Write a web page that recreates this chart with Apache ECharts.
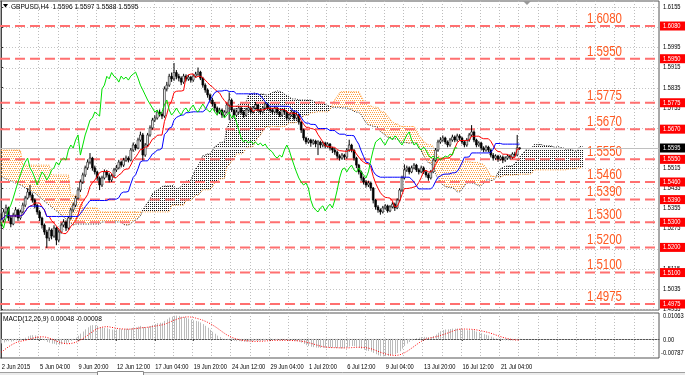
<!DOCTYPE html>
<html><head><meta charset="utf-8">
<script src="https://cdn.jsdelivr.net/npm/echarts@6/dist/echarts.min.js"></script>
<style>html,body{margin:0;padding:0;background:#fff}#c{width:685px;height:375px}</style>
</head><body><div id="c"></div>
<script>
// ---------- DATA (prices in pips after "1.", e.g. 5595 = 1.5595) ----------
const symbol = 'GBPUSD', timeframe = 'H4';
const firstOpen = 5300;
const closes = [
5309,5341,5357,5317,5293,5329,5349,5317,5341,5368,
5396,5420,5408,5388,5368,5341,5317,5289,5261,5237,
5269,5245,5277,5229,5261,5289,5301,5277,5317,5349,
5368,5396,5428,5460,5488,5516,5539,5555,5516,5500,
5476,5448,5476,5500,5488,5468,5484,5508,5516,5539,
5527,5547,5555,5547,5587,5607,5595,5627,5647,5567,
5607,5647,5675,5706,5714,5738,5730,5722,5830,5845,
5880,5870,5895,5880,5873,5857,5881,5869,5877,5865,
5881,5889,5897,5873,5845,5826,5806,5786,5770,5754,
5738,5746,5726,5738,5766,5786,5746,5726,5738,5754,
5738,5726,5746,5754,5738,5754,5766,5746,5738,5754,
5770,5754,5746,5738,5754,5738,5726,5746,5738,5714,
5726,5738,5714,5726,5698,5667,5635,5619,5627,5615,
5623,5611,5619,5607,5615,5603,5611,5595,5587,5579,
5563,5555,5567,5559,5587,5607,5587,5555,5527,5500,
5476,5460,5448,5456,5436,5388,5361,5349,5341,5357,
5365,5345,5361,5372,5357,5388,5428,5476,5508,5516,
5500,5516,5527,5508,5500,5516,5500,5488,5476,5500,
5547,5587,5619,5627,5635,5619,5607,5627,5639,5627,
5643,5635,5619,5607,5627,5647,5659,5627,5607,5615,
5595,5587,5599,5587,5567,5555,5563,5551,5559,5547,
5555,5563,5559,5571,5567,5596,5595];
const highs = [
5335,5352,5370,5362,5325,5338,5360,5352,5350,5378,
5405,5435,5448,5415,5395,5372,5348,5322,5295,5270,
5280,5275,5288,5282,5270,5298,5312,5308,5325,5358,
5378,5405,5438,5470,5497,5525,5550,5575,5560,5525,
5505,5482,5485,5510,5508,5495,5492,5516,5528,5548,
5545,5556,5565,5562,5595,5617,5612,5636,5660,5655,
5615,5655,5685,5715,5725,5746,5748,5738,5840,5858,
5890,5895,5933,5905,5890,5880,5890,5888,5886,5882,
5890,5898,5915,5902,5878,5852,5832,5812,5795,5778,
5760,5755,5752,5745,5775,5816,5792,5752,5748,5762,
5760,5745,5755,5765,5760,5762,5778,5770,5752,5762,
5778,5775,5760,5752,5762,5758,5742,5752,5755,5742,
5735,5745,5742,5735,5730,5702,5672,5640,5635,5632,
5630,5628,5626,5624,5622,5620,5618,5615,5600,5595,
5585,5570,5575,5572,5595,5628,5612,5590,5560,5532,
5505,5482,5468,5465,5462,5440,5392,5368,5355,5365,
5372,5370,5368,5380,5378,5395,5435,5485,5530,5525,
5522,5525,5535,5532,5515,5525,5522,5505,5495,5508,
5555,5595,5628,5638,5645,5640,5625,5635,5648,5645,
5652,5650,5640,5625,5635,5655,5686,5665,5632,5622,
5620,5602,5606,5604,5592,5575,5570,5568,5566,5565,
5562,5570,5570,5578,5580,5647,5597];
const lows = [
5285,5300,5332,5305,5280,5288,5320,5305,5310,5335,
5360,5390,5398,5378,5355,5330,5305,5275,5250,5198,
5225,5232,5238,5209,5220,5255,5280,5265,5270,5310,
5340,5360,5390,5420,5452,5480,5508,5530,5505,5490,
5465,5428,5440,5470,5478,5458,5460,5478,5500,5510,
5518,5520,5540,5538,5542,5580,5585,5590,5620,5545,
5560,5600,5640,5668,5698,5708,5720,5710,5715,5820,
5838,5858,5862,5868,5860,5845,5850,5860,5862,5855,
5858,5875,5882,5865,5835,5815,5795,5775,5760,5742,
5725,5730,5715,5718,5732,5706,5738,5715,5720,5730,
5728,5715,5720,5740,5730,5732,5748,5738,5728,5732,
5748,5745,5738,5730,5732,5728,5718,5720,5730,5705,
5706,5720,5705,5708,5688,5655,5625,5610,5612,5600,
5608,5598,5567,5595,5598,5594,5596,5585,5575,5568,
5552,5545,5548,5548,5552,5580,5578,5545,5515,5490,
5465,5450,5438,5440,5425,5375,5350,5338,5330,5335,
5350,5338,5340,5355,5345,5352,5382,5420,5470,5500,
5490,5495,5510,5500,5490,5495,5492,5478,5465,5470,
5495,5540,5580,5612,5620,5610,5598,5600,5620,5618,
5620,5625,5610,5598,5600,5620,5640,5618,5598,5600,
5585,5578,5580,5578,5558,5545,5548,5540,5545,5535,
5540,5548,5550,5552,5560,5562,5588];
const spanAHead = [
5480,5476,5472,5468,5464,5460,5456,5452,5448,5444,
5436,5432,5424,5420,5416,5408,5400,5392,5384,5376,
5368,5361,5353,5345,5337,5329,5321,5313,5305,5297,
5289,5293,5293,5293,5293,5293,5293,5293,5293,5293,
5293,5293,5301,5301,5301,5301,5301,5301,5301,5301,5301];
const spanBHead = [
5587,5587,5587,5587,5587,5587,5587,5587,5587,
5527,5527,5527,5527,5527,5527,5527,5527,5527,5527,5527,5527,
5488,5488,5488,5488,5488,5488,5488,5488,
5408,5408,5408,5408,5408,
5357,5357,5357,5357,5357,5357,5357,
5341,5341,5341,5341,5341,5341,5341,5341,5341,5341,
5341,5341,5341,5341,5341,5341,5341,5341,5341,5341,
5341,5341,5341,5341,5341,5341,5341,5341,5341,5341,
5368,5368,5368,5368,5368,5368];
const macdSeed = [1.5310, 1.5330];          // EMA12, EMA26 before first bar
const macdPrev = [-0.0080,-0.0078,-0.0074,-0.0068,-0.0060,-0.0050,-0.0038,-0.0027];
const macdHeaderValues = ['0.00048', '-0.00008'];
const levels = [1.6080,1.5950,1.5775,1.5670,1.5550,1.5460,1.5390,1.5300,1.5200,1.5100,1.4975];
const priceTicks = [1.6155,1.6075,1.5995,1.5915,1.5835,1.5755,1.5675,1.5595,1.5515,1.5435,1.5355,1.5275,1.5195,1.5115,1.5035,1.4955];
const macdTicks = [0.01063, 0, -0.00787];
const macdTickLabels = ['0.01063', '0.00', '-0.00787'];
const dateLabels = ['2 Jun 2015','5 Jun 04:00','9 Jun 20:00','12 Jun 12:00','17 Jun 04:00','19 Jun 20:00','24 Jun 12:00','29 Jun 04:00','1 Jul 20:00','6 Jul 12:00','9 Jul 04:00','13 Jul 20:00','16 Jul 12:00','21 Jul 04:00'];
const dateLabelBars = [0,16,32,48,64,80,96,112,128,144,160,176,192,208];

// ---------- derived ----------
const P = v => 1 + v / 10000;
const N = closes.length;
const Cl = closes.map(P), Hi = highs.map(P), Lo = lows.map(P);
const Op = Cl.map((c, i) => i === 0 ? P(firstOpen) : Cl[i - 1]);
const SHIFT = 26;
function mid(i, n) {
  let hh = -Infinity, ll = Infinity;
  for (let k = Math.max(0, i - n + 1); k <= i; k++) { hh = Math.max(hh, Hi[k]); ll = Math.min(ll, Lo[k]); }
  return (hh + ll) / 2;
}
const tenkan = Cl.map((_, i) => mid(i, 9));
const kijun = Cl.map((_, i) => mid(i, 26));
const spanA = [], spanB = [];
for (let j = 0; j < N + SHIFT; j++) {
  const i = j - SHIFT;
  spanA.push(j < spanAHead.length ? P(spanAHead[j]) : (tenkan[i] + kijun[i]) / 2);
  spanB.push(j < spanBHead.length ? P(spanBHead[j]) : mid(i, 52));
}
// contiguous runs of the cloud with the same colour
const runs = []; { let s = 0; const up = j => spanA[j] >= spanB[j];
  for (let j = 1; j <= spanA.length; j++) if (j === spanA.length || up(j) !== up(s)) { runs.push([s, spanA[s], j - 1, up(s) ? 1 : 0]); s = j; } }
let e12 = macdSeed[0], e26 = macdSeed[1];
const macdMain = [];
Cl.forEach(c => { e12 += 2 / 13 * (c - e12); e26 += 2 / 27 * (c - e26); macdMain.push(e12 - e26); });
const allMain = macdPrev.concat(macdMain);
const macdSignal = macdMain.map((_, i) => { let s = 0; for (let k = i; k < i + 9; k++) s += allMain[k]; return s / 9; });

const FONT = '"Liberation Sans",Arial,sans-serif';
const SX = 0.82;   // the screenshot is horizontally condensed
const XMIN = -0.5, XMAX = -0.5 + 659 / 2.4;
const gridBars = []; for (let k = 1; k * 8 - 0.5 < XMAX; k++) gridBars.push(k * 8 - 0.5);

function dotPattern(color, w, h, dots) {
  const c = document.createElement('canvas'); c.width = w; c.height = h;
  const g = c.getContext('2d'); g.fillStyle = color; dots.forEach(d => g.fillRect(d[0], d[1], 1, 1));
  return { image: c, repeat: 'repeat' };
}
const PAT_UP = dotPattern('#1a1a1a', 2, 2, [[0, 0]]);
const PAT_DN = dotPattern('#ffa040', 2, 4, [[0, 0], [1, 2]]);

const chart = echarts.init(document.getElementById('c'), null, { renderer: 'canvas' });

function txt(x, y, text, size, fill, align, vAlign) {
  return { type: 'text', x, y, scaleX: SX, style: { x: 0, y: 0, text, fill, font: size + 'px ' + FONT, align: align || 'left', verticalAlign: vAlign || 'middle' } };
}
function hLineSeries(xi, yi, vals, color, dash, z) {
  return { type: 'custom', xAxisIndex: xi, yAxisIndex: yi, z, silent: true,
    data: vals.map(v => [XMIN, v]), encode: { x: 0, y: 1 },
    renderItem: (p, api) => { const cs = p.coordSys; const y = Math.round(api.coord([XMIN, api.value(1)])[1]) + 0.5;
      return { type: 'line', shape: { x1: cs.x, y1: y, x2: cs.x + cs.width, y2: y }, style: { stroke: color, lineWidth: 1, lineDash: dash } }; } };
}
function vLineSeries(xi, yi, vals, z) {
  return { type: 'custom', xAxisIndex: xi, yAxisIndex: yi, z, silent: true,
    data: vals.map(v => [v, 0]), encode: { x: 0, y: 1 },
    renderItem: (p, api) => { const cs = p.coordSys; const x = Math.round(api.coord([api.value(0), 0])[0]) + 0.5;
      return { type: 'line', shape: { x1: x, y1: cs.y, x2: x, y2: cs.y + cs.height }, style: { stroke: '#bdbdbd', lineWidth: 1, lineDash: [1, 2] } }; } };
}

const option = {
  animation: false,
  backgroundColor: '#fff',
  grid: [
    { left: 0, top: 1, width: 659, height: 309, show: true, borderColor: '#555', borderWidth: 1, backgroundColor: 'transparent' },
    { left: 0, top: 313, width: 659, height: 45, show: true, borderColor: '#555', borderWidth: 1, backgroundColor: 'transparent' }
  ],
  xAxis: [
    { type: 'value', gridIndex: 0, min: XMIN, max: XMAX, show: false },
    { type: 'value', gridIndex: 1, min: XMIN, max: XMAX,
      axisLine: { show: true, lineStyle: { color: '#555' } },
      axisTick: { show: true, customValues: dateLabelBars, length: 2, lineStyle: { color: '#333' } },
      splitLine: { show: false }, axisLabel: { show: false } }
  ],
  yAxis: [
    { type: 'value', gridIndex: 0, position: 'right', min: 1.49512, max: 1.61794,
      axisLine: { show: true, lineStyle: { color: '#444' } },
      axisTick: { show: true, customValues: priceTicks, length: 2, lineStyle: { color: '#333' } },
      splitLine: { show: false }, axisLabel: { show: false } },
    { type: 'value', gridIndex: 1, position: 'right', min: -0.00787, max: 0.01063,
      axisLine: { show: true, lineStyle: { color: '#444' } },
      axisTick: { show: false }, splitLine: { show: false }, axisLabel: { show: false } }
  ],
  graphic: [
    { type: 'polygon', z: 100, shape: { points: [[3, 4], [8, 4], [5.5, 7.5]] }, style: { fill: '#000' } },
    Object.assign(txt(11, 6.5, symbol + ',' + timeframe + '  ' + Op[N-1].toFixed(4) + ' ' + Hi[N-1].toFixed(4) + ' ' + Lo[N-1].toFixed(4) + ' ' + Cl[N-1].toFixed(4), 8, '#000'), { z: 100 }),
    Object.assign(txt(3, 318.5, 'MACD(12,26,9) ' + macdHeaderValues.join(' '), 8, '#000'), { z: 100 }),
    { type: 'polygon', z: 100, shape: { points: [[523, 1], [531, 1], [527, 5]] }, style: { fill: '#999' } },
    { type: 'rect', z: 100, shape: { x: 0, y: 372, width: 685, height: 3 }, style: { fill: '#ececec' } },
    { type: 'line', z: 100, shape: { x1: 0, y1: 372.5, x2: 685, y2: 372.5 }, style: { stroke: '#a0a0a0', lineWidth: 1 } },
    { type: 'rect', z: 101, shape: { x: 97.5, y: 371.5, width: 46, height: 4 }, style: { fill: '#fff', stroke: '#888', lineWidth: 1 } }
  ],
  series: [
    hLineSeries(0, 0, priceTicks, '#c4c4c4', [1, 2], 1),
    vLineSeries(0, 0, gridBars, 1),
    hLineSeries(1, 1, [0], '#b0b0b0', [1, 2], 1),
    vLineSeries(1, 1, gridBars, 1),
    // price-axis labels
    { type: 'custom', xAxisIndex: 0, yAxisIndex: 0, z: 3, silent: true, clip: false,
      data: priceTicks.map(v => [XMIN, v]), encode: { x: 0, y: 1 },
      renderItem: (p, api) => { const cs = p.coordSys; const y = api.coord([XMIN, api.value(1)])[1];
        return txt(cs.x + cs.width + 4, y, api.value(1).toFixed(4), 7, '#000'); } },
    // MACD-axis labels
    { type: 'custom', xAxisIndex: 1, yAxisIndex: 1, z: 3, silent: true, clip: false,
      data: macdTicks.map((v, k) => [XMIN, v, k]), encode: { x: 0, y: 1 },
      renderItem: (p, api) => { const cs = p.coordSys; const k = api.value(2);
        const y = api.coord([XMIN, api.value(1)])[1] + (k === 0 ? 3 : k === 2 ? -5 : 1);
        return txt(cs.x + cs.width + (k === 2 ? 2 : 4), y, macdTickLabels[k], 7, '#000'); } },
    // date labels
    { type: 'custom', xAxisIndex: 1, yAxisIndex: 1, z: 3, silent: true, clip: false,
      data: dateLabelBars.map((b, k) => [b, 0, k]), encode: { x: 0, y: 1 },
      renderItem: (p, api) => { const cs = p.coordSys; const x = api.coord([api.value(0), 0])[0];
        return txt(x + 0.5, cs.y + cs.height + 9, dateLabels[api.value(2)], 7, '#000'); } },
    // Ichimoku cloud (dotted fill)
    { type: 'custom', xAxisIndex: 0, yAxisIndex: 0, z: 2, silent: true, clip: true,
      data: runs, encode: { x: [0, 2], y: 1 },
      renderItem: (p, api) => {
        const s = api.value(0), e = api.value(2), up = api.value(3);
        const top = [], bot = [];
        for (let j = s; j <= e; j++) {
          const xs = j === s ? [j - 0.5, j] : j === e ? [j, j + 0.5] : [j];
          if (s === e) xs.splice(0, xs.length, j - 0.5, j + 0.5);
          xs.forEach(x => { top.push(api.coord([x, spanA[j]])); bot.push(api.coord([x, spanB[j]])); });
        }
        return { type: 'polygon', shape: { points: top.concat(bot.reverse()) }, style: { fill: up ? PAT_UP : PAT_DN } };
      } },
    { type: 'line', xAxisIndex: 0, yAxisIndex: 0, z: 3, symbol: 'none', silent: true, data: spanA.map((v, j) => [j, v]),
      lineStyle: { color: '#222', width: 1, type: [1, 1.5] } },
    { type: 'line', xAxisIndex: 0, yAxisIndex: 0, z: 3, symbol: 'none', silent: true, data: spanB.map((v, j) => [j, v]),
      lineStyle: { color: '#ff9020', width: 1, type: [1, 1.5] } },
    // horizontal levels + labels
    { type: 'custom', xAxisIndex: 0, yAxisIndex: 0, z: 4, silent: true, clip: false,
      data: levels.map(v => [XMIN, v]), encode: { x: 0, y: 1 },
      renderItem: (p, api) => {
        const cs = p.coordSys; const v = api.value(1); const y = api.coord([XMIN, v])[1];
        return { type: 'group', children: [
          { type: 'line', shape: { x1: cs.x, y1: y, x2: cs.x + cs.width, y2: y }, style: { stroke: '#ff7070', lineWidth: 2, lineDash: [10, 5] } },
          txt(cs.x + cs.width - 37, y - 7, v.toFixed(4), 14, '#ff5a22', 'right'),
          { type: 'rect', shape: { x: cs.x + cs.width + 1, y: y - 4.5, width: 25, height: 9 }, style: { fill: '#ff0000' } },
          txt(cs.x + cs.width + 4, y, v.toFixed(4), 7, '#fff')
        ] };
      } },
    // bid line + price box
    { type: 'custom', xAxisIndex: 0, yAxisIndex: 0, z: 4, silent: true, clip: false,
      data: [[XMIN, Cl[N - 1]]], encode: { x: 0, y: 1 },
      renderItem: (p, api) => {
        const cs = p.coordSys; const v = api.value(1); const y = Math.round(api.coord([XMIN, v])[1]) + 0.5;
        return { type: 'group', children: [
          { type: 'line', shape: { x1: cs.x, y1: y, x2: cs.x + cs.width, y2: y }, style: { stroke: '#c0c0c0', lineWidth: 1 } },
          { type: 'rect', shape: { x: cs.x + cs.width + 1, y: y - 5, width: 25, height: 9 }, style: { fill: '#000' } },
          txt(cs.x + cs.width + 4, y - 0.5, v.toFixed(4), 7, '#fff')
        ] };
      } },
    // candles
    { type: 'custom', xAxisIndex: 0, yAxisIndex: 0, z: 5, silent: true, clip: true,
      data: Cl.map((c, i) => [i, Op[i], c, Lo[i], Hi[i]]), encode: { x: 0, y: [1, 2, 3, 4] },
      renderItem: (p, api) => {
        const i = api.value(0), o = api.value(1), c = api.value(2), l = api.value(3), h = api.value(4);
        const po = api.coord([i, o]), pc = api.coord([i, c]), pl = api.coord([i, l]), ph = api.coord([i, h]);
        const x = po[0]; const top = Math.min(po[1], pc[1]), bot = Math.max(po[1], pc[1]);
        return { type: 'group', children: [
          { type: 'line', shape: { x1: x, y1: ph[1], x2: x, y2: pl[1] }, style: { stroke: '#000', lineWidth: 1 } },
          { type: 'rect', shape: { x: x - 0.9, y: top, width: 1.8, height: Math.max(bot - top, 1) }, style: { fill: c >= o ? '#fff' : '#000', stroke: '#000', lineWidth: 0.6 } }
        ] };
      } },
    { type: 'line', xAxisIndex: 0, yAxisIndex: 0, z: 6, symbol: 'none', silent: true, data: tenkan.map((v, i) => [i, v]), lineStyle: { color: '#ff0000', width: 1 } },
    { type: 'line', xAxisIndex: 0, yAxisIndex: 0, z: 6, symbol: 'none', silent: true, data: kijun.map((v, i) => [i, v]), lineStyle: { color: '#0000ff', width: 1 } },
    { type: 'line', xAxisIndex: 0, yAxisIndex: 0, z: 6, symbol: 'none', silent: true, data: Cl.slice(SHIFT).map((v, i) => [i, v]), lineStyle: { color: '#00e000', width: 1 } },
    // MACD
    { type: 'custom', xAxisIndex: 1, yAxisIndex: 1, z: 3, silent: true, clip: true,
      data: macdMain.map((v, i) => [i, v]), encode: { x: 0, y: 1 },
      renderItem: (p, api) => {
        const a = api.coord([api.value(0), 0]), b = api.coord([api.value(0), api.value(1)]);
        const x = Math.round(a[0]) + 0.5;
        return { type: 'line', shape: { x1: x, y1: a[1], x2: x, y2: b[1] }, style: { stroke: '#bbbbbb', lineWidth: 1 } };
      } },
    { type: 'line', xAxisIndex: 1, yAxisIndex: 1, z: 6, symbol: 'none', silent: true, data: macdSignal.map((v, i) => [i, v]), lineStyle: { color: '#ff0000', width: 1, type: [1, 1.5] } }
  ]
};
chart.setOption(option);
</script></body></html>
